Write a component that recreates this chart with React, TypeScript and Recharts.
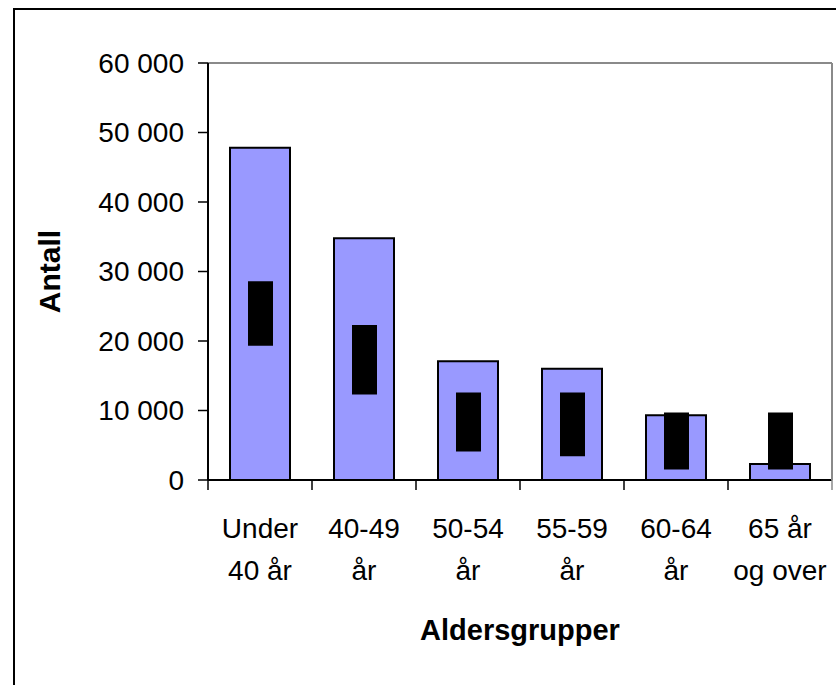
import { Bar, BarChart, ReferenceLine, XAxis, YAxis } from 'recharts'

const categories = ['Under 40 år', '40-49 år', '50-54 år', '55-59 år', '60-64 år', '65 år og over']
const tickLines = [
  ['Under', '40 år'],
  ['40-49', 'år'],
  ['50-54', 'år'],
  ['55-59', 'år'],
  ['60-64', 'år'],
  ['65 år', 'og over'],
]
const antall = [47800, 34800, 17100, 16000, 9300, 2300]
const rangeLow = [19300, 12300, 4100, 3400, 1500, 1500]
const rangeHigh = [28600, 22300, 12600, 12600, 9700, 9700]
const yTicks = [0, 10000, 20000, 30000, 40000, 50000, 60000]
const yMax = 60000

const data = categories.map((name, i) => ({
  name,
  antall: antall[i],
  range: [rangeLow[i], rangeHigh[i]],
}))

const FONT = '"Liberation Sans", Arial, sans-serif'
const TICK_SIZE = 10
const GRAY = '#8a8a8a'

const formatThousands = (v: number) =>
  String(v).replace(/\B(?=(\d{3})+(?!\d))/g, ' ')

function CategoryTick(props: any) {
  const { x, y, payload, index } = props
  const half = payload?.offset ?? 52
  const axisY = y - TICK_SIZE
  const lines = tickLines[index] ?? [String(payload?.value ?? '')]
  return (
    <g>
      <line x1={x - half} x2={x - half} y1={axisY} y2={axisY + TICK_SIZE} stroke="#000" strokeWidth={1.5} />
      {index === categories.length - 1 && (
        <line x1={x + half} x2={x + half} y1={axisY} y2={axisY + TICK_SIZE} stroke={GRAY} strokeWidth={1.5} />
      )}
      <text x={x} y={axisY} textAnchor="middle" fontSize={28} fontFamily={FONT} fill="#000">
        <tspan x={x} dy={58}>{lines[0]}</tspan>
        <tspan x={x} dy={42}>{lines[1]}</tspan>
      </text>
    </g>
  )
}

export default function App() {
  return (
    <div
      style={{
        position: 'absolute',
        left: 0,
        top: 0,
        width: 836,
        height: 685,
        overflow: 'hidden',
        background: '#fff',
        fontFamily: FONT,
      }}
    >
      <div
        style={{
          position: 'absolute',
          left: 13,
          top: 8,
          width: 1000,
          height: 1000,
          border: '2px solid #000',
        }}
      />
      <div style={{ position: 'absolute', left: 0, top: 0 }}>
        <BarChart
          width={836}
          height={685}
          data={data}
          margin={{ top: 63, right: 0, bottom: 35, left: 0 }}
        >
          <XAxis
            xAxisId="main"
            dataKey="name"
            height={170}
            tickLine={false}
            tickSize={TICK_SIZE}
            tickMargin={0}
            tick={<CategoryTick />}
            interval={0}
            axisLine={{ stroke: '#000', strokeWidth: 2 }}
            label={{
              value: 'Aldersgrupper',
              position: 'insideBottom',
              offset: 10,
              style: { fontWeight: 'bold', fontSize: 29, fill: '#000', fontFamily: FONT },
            }}
          />
          <XAxis
            xAxisId="overlay"
            dataKey="name"
            orientation="top"
            height={0}
            tick={false}
            tickLine={false}
            axisLine={false}
          />
          <YAxis
            yAxisId="left"
            width={208}
            domain={[0, yMax]}
            ticks={yTicks}
            tickFormatter={formatThousands}
            tickSize={TICK_SIZE}
            tickMargin={14}
            tick={{ fontSize: 28, fill: '#000', fontFamily: FONT }}
            tickLine={{ stroke: '#000', strokeWidth: 1.5 }}
            axisLine={{ stroke: '#000', strokeWidth: 2 }}
            label={{
              value: 'Antall',
              angle: -90,
              position: 'insideLeft',
              offset: 49,
              style: { textAnchor: 'middle', fontWeight: 'bold', fontSize: 30, fill: '#000', fontFamily: FONT },
            }}
          />
          <YAxis
            yAxisId="right"
            orientation="right"
            width={4}
            domain={[0, yMax]}
            tick={false}
            tickLine={false}
            axisLine={{ stroke: GRAY, strokeWidth: 2 }}
          />
          <ReferenceLine xAxisId="main" yAxisId="left" y={yMax} stroke={GRAY} strokeWidth={2} />
          <Bar
            xAxisId="main"
            yAxisId="left"
            dataKey="antall"
            barSize={60}
            fill="#9999FF"
            stroke="#000"
            strokeWidth={2}
            isAnimationActive={false}
          />
          <Bar
            xAxisId="overlay"
            yAxisId="left"
            dataKey="range"
            barSize={25}
            fill="#000"
            isAnimationActive={false}
          />
        </BarChart>
      </div>
    </div>
  )
}
